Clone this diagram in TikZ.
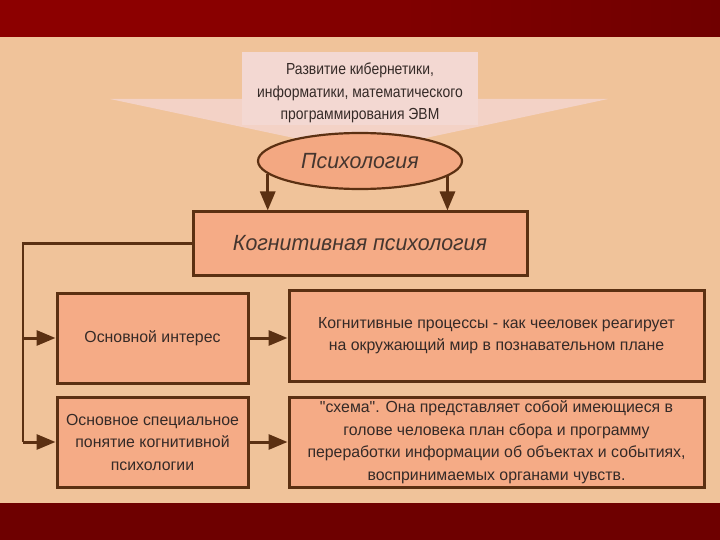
\documentclass[tikz,border=0pt]{standalone}
\usepackage{fontspec}
\setmainfont{Liberation Sans}[FakeStretch=0.87]
\newfontfamily\bodyfont{Liberation Sans}[FakeStretch=0.99]
\newfontfamily\headfont{Liberation Sans}[FakeStretch=0.97]
\usetikzlibrary{shapes.geometric,arrows.meta,calc}
\definecolor{bandL}{HTML}{8C0000}
\definecolor{bandR}{HTML}{700000}
\definecolor{bandB}{HTML}{6E0000}
\definecolor{beige}{HTML}{F0C39A}
\definecolor{boxfill}{HTML}{F5AB86}
\definecolor{ellfill}{HTML}{F3A882}
\definecolor{brd}{HTML}{5B3012}
\definecolor{txt}{HTML}{352A27}
\definecolor{itxt}{HTML}{45362F}
\definecolor{pinkbox}{HTML}{F3D8D2}
\definecolor{pinkarrow}{HTML}{F3D2C6}
\tikzset{
  framebox/.style={draw=brd, line width=3pt, fill=boxfill, inner sep=0pt, text=txt, align=center},
  bodytext/.style={font=\bodyfont\fontsize{16}{22.5}\selectfont},
  headtext/.style={font=\headfont\fontsize{22}{26}\selectfont\itshape, text=itxt},
  conn/.style={draw=brd, line width=2.2pt},
  arr/.style={draw=brd, line width=3pt, -{Triangle[width=15pt,length=19pt]}},
}
\begin{document}
\begin{tikzpicture}[x=1pt,y=-1pt]
\useasboundingbox (0,0) rectangle (720,540);
% backgrounds
\fill[beige] (0,37) rectangle (720,503);
\fill[bandL] (0,0) rectangle (160,37);
\shade[left color=bandL, right color=bandR] (160,0) rectangle (720,37);
\fill[bandB] (0,503) rectangle (720,540);
% big pale arrow
\fill[pinkarrow] (110,99) -- (608,99) -- (360,152) -- cycle;
% source box
\fill[pinkbox] (242,52) rectangle (478,125);
\node[inner sep=0pt, align=center, text=txt, font=\fontsize{16}{22.5}\selectfont] (src) at (360,93)
  {Развитие кибернетики,\\информатики, математического\\программирования ЭВМ};
% ellipse
\node[ellipse, draw=brd, line width=2.2pt, fill=ellfill, minimum width=204pt, minimum height=56pt,
      inner sep=0pt, headtext] (psy) at (360,161) {Психология};
% cognitive box
\node[framebox, minimum width=334pt, minimum height=63pt, headtext] (cog) at (360,243.5)
  {Когнитивная психология};
% left boxes
\node[framebox, bodytext, minimum width=191pt, minimum height=90pt] (b1) at (152.5,338)
  {Основной интерес};
\node[framebox, bodytext, minimum width=191pt, minimum height=90pt] (b2) at (152.5,442)
  {Основное специальное\\понятие когнитивной\\психологии};
% right boxes
\node[framebox, bodytext, minimum width=415pt, minimum height=91pt] (b3) at (496.5,335.5)
  {Когнитивные процессы - как чееловек реагирует\\на окружающий мир в познавательном плане};
\node[framebox, bodytext, minimum width=415pt, minimum height=90pt] (b4) at (496.5,442)
  {\symbol{34}схема\symbol{34}. Она представляет собой имеющиеся в\\голове человека план сбора и программу\\переработки информации об объектах и событиях,\\воспринимаемых органами чувств.};
% connectors
\draw[arr] (psy.188.3) -- (psy.188.3 |- cog.north);
\draw[arr] (psy.350.5) -- (psy.350.5 |- cog.north);
\coordinate (bend) at (23,442);
\draw[conn] (cog.west) -| (bend);
\draw[arr] (bend |- b1.west) -- (b1.west);
\draw[arr] (bend) -- (b2.west);
\draw[arr] (b1.east) -- (b1.east -| b3.west);
\draw[arr] (b2.east) -- (b4.west);
\end{tikzpicture}
\end{document}
